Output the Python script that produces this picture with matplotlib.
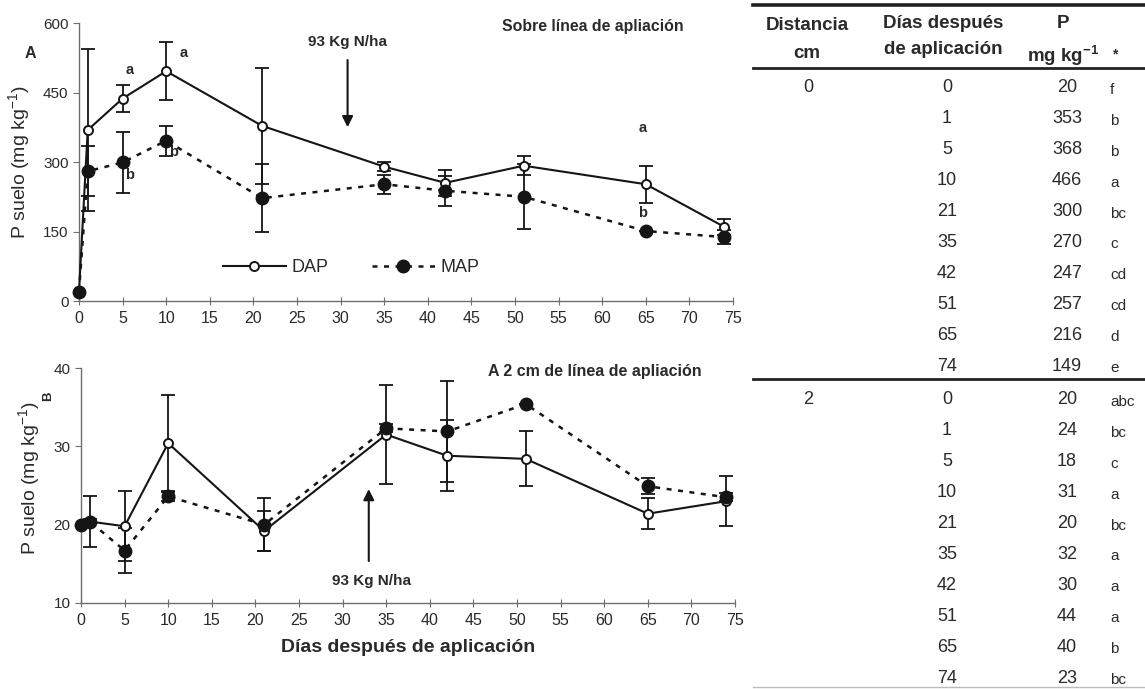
import numpy as np
import matplotlib
matplotlib.use('Agg')
import matplotlib.pyplot as plt
from matplotlib.lines import Line2D

plt.rcParams['font.family'] = ['Liberation Sans', 'DejaVu Sans']
plt.rcParams['mathtext.fontset'] = 'custom'
plt.rcParams['mathtext.rm'] = 'Liberation Sans'
plt.rcParams['mathtext.bf'] = 'Liberation Sans:bold'
plt.rcParams['axes.unicode_minus'] = False

# --- data ---
days = [0, 1, 5, 10, 21, 35, 42, 51, 65, 74]

# panel A: on the application line
dap_a = [20, 369, 437, 496, 378, 290, 255, 292, 252, 160]
dap_a_err = [0, 175, 29, 62, 125, 10, 28, 21, 40, 18]
map_a = [20, 280, 299, 346, 222, 252, 238, 225, 151, 138]
map_a_err = [0, 54, 66, 32, 74, 20, 32, 70, 0, 15]

# panel B: 2 cm from the application line
dap_b = [20.0, 20.4, 19.8, 30.4, 19.2, 31.5, 28.8, 28.4, 21.4, 23.0]
dap_b_err = [0, 3.2, 4.45, 6.1, 2.5, 6.3, 4.5, 3.5, 2.0, 3.2]
map_b = [20.0, 20.4, 16.7, 23.6, 20.0, 32.3, 31.9, 35.4, 24.9, 23.5]
map_b_err = [0, 0.3, 2.9, 0.6, 3.4, 0.5, 6.5, 0, 1.0, 0.5]

# letters of the significance test (day, value, text)
letters_a = [(5.8, 498, 'a'), (12.0, 535, 'a'), (5.8, 272, 'b'), (10.8, 322, 'b'),
             (64.6, 373, 'a'), (64.6, 190, 'b')]

# table
tab_dist = ['0', '2']
tab_days = ['0', '1', '5', '10', '21', '35', '42', '51', '65', '74']
tab_p_0 = ['20', '353', '368', '466', '300', '270', '247', '257', '216', '149']
tab_sig_0 = ['f', 'b', 'b', 'a', 'bc', 'c', 'cd', 'cd', 'd', 'e']
tab_p_2 = ['20', '24', '18', '31', '20', '32', '30', '44', '40', '23']
tab_sig_2 = ['abc', 'bc', 'c', 'a', 'bc', 'a', 'a', 'a', 'b', 'bc']

W, H = 1145, 689
fig = plt.figure(figsize=(W / 100, H / 100), dpi=100)

axA = fig.add_axes([79 / W, 1 - 301 / H, 654 / W, 278 / H])
axB = fig.add_axes([81 / W, 1 - 603 / H, 654 / W, 235 / H])

spine_c = '#6e6e6e'
txt_c = '#2a2a2a'


def style(ax):
    for s in ['top', 'right']:
        ax.spines[s].set_visible(False)
    for s in ['left', 'bottom']:
        ax.spines[s].set_color(spine_c)
        ax.spines[s].set_linewidth(1.0)
    ax.tick_params(axis='x', direction='inout', length=6, color=spine_c,
                   labelsize=11.5, labelcolor=txt_c, pad=4)
    ax.tick_params(axis='y', direction='out', length=4, color=spine_c,
                   labelsize=11, labelcolor=txt_c)
    ax.set_xlim(0, 75)
    ax.set_xticks(np.arange(0, 76, 5))


def draw(ax, dap, dap_err, mp, mp_err):
    ax.errorbar(days, mp, yerr=mp_err, fmt='none', ecolor='#151515',
                elinewidth=1.3, capsize=5, capthick=1.3, zorder=2)
    ax.errorbar(days, dap, yerr=dap_err, fmt='none', ecolor='#151515',
                elinewidth=1.3, capsize=5, capthick=1.3, zorder=2)
    ax.plot(days, dap, color='#151515', lw=1.5, ls='-',
            marker='o', ms=6.5, mfc='white', mec='#151515', mew=1.4,
            zorder=3, clip_on=False)
    ax.plot(days, mp, color='#151515', lw=1.8, ls=(0, (2.0, 2.6)),
            marker='o', ms=9, mfc='#151515', mec='#151515', zorder=4,
            clip_on=False)


# panel A
style(axA)
draw(axA, dap_a, dap_a_err, map_a, map_a_err)
axA.set_ylim(0, 600)
axA.set_yticks([0, 150, 300, 450, 600])
axA.set_ylabel('P suelo (mg kg$^{-1}$)', fontsize=14, color=txt_c)
axA.yaxis.set_label_coords(-0.070, 0.5)
for x, y, t in letters_a:
    axA.text(x, y, t, fontsize=10.5, fontweight='bold', color=txt_c,
             ha='center', va='center')
axA.annotate('', xy=(30.8, 369), xytext=(30.8, 526),
             arrowprops=dict(arrowstyle='-|>', lw=1.5, color='#151515',
                             mutation_scale=16))
axA.text(30.8, 560, '93 Kg N/ha', fontsize=11, fontweight='bold',
         color=txt_c, ha='center', va='center')
axA.text(58.9, 593, 'Sobre línea de apliación', fontsize=11.4,
         fontweight='bold', color=txt_c, ha='center', va='center')

h_dap = Line2D([], [], color='#151515', lw=1.5, marker='o', ms=6.5,
               mfc='white', mec='#151515', mew=1.4)
h_map = Line2D([], [], color='#151515', lw=1.8, ls=(0, (2.0, 2.6)),
               marker='o', ms=9, mfc='#151515')
axA.legend([h_dap, h_map], ['DAP', 'MAP'], ncol=2, frameon=False,
           loc='center left', bbox_to_anchor=(0.195, 0.119),
           fontsize=13, handlelength=3.5, columnspacing=2.4,
           handletextpad=0.3, labelcolor=txt_c)

# panel B
style(axB)
draw(axB, dap_b, dap_b_err, map_b, map_b_err)
axB.set_ylim(10, 40)
axB.set_yticks([10, 20, 30, 40])
axB.set_ylabel('P suelo (mg kg$^{-1}$)', fontsize=14, color=txt_c)
axB.yaxis.set_label_coords(-0.058, 0.53)
axB.set_xlabel('Días después de aplicación', fontsize=14,
               fontweight='bold', color=txt_c, labelpad=8)
axB.annotate('', xy=(33.0, 24.9), xytext=(33.0, 15.0),
             arrowprops=dict(arrowstyle='-|>', lw=1.5, color='#151515',
                             mutation_scale=16))
axB.text(33.3, 12.8, '93 Kg N/ha', fontsize=11, fontweight='bold',
         color=txt_c, ha='center', va='center')
axB.text(58.9, 39.5, 'A 2 cm de línea de apliación', fontsize=11.5,
         fontweight='bold', color=txt_c, ha='center', va='center')

fig.text(30 / W, 1 - 53 / H, 'A', fontsize=11.5, fontweight='bold',
         color=txt_c, ha='center', va='center')
fig.text(48 / W, 1 - 396 / H, 'B', fontsize=9.5, fontweight='bold',
         color=txt_c, ha='center', va='center', rotation=90)

# table (pixel coordinates)
tax = fig.add_axes([0, 0, 1, 1], zorder=-1)
tax.set_xlim(0, W)
tax.set_ylim(H, 0)
tax.axis('off')

tax.plot([753, W], [5, 5], color='#222222', lw=2.6)
tax.plot([753, W], [68, 68], color='#222222', lw=2.0)
tax.plot([753, W], [379, 379], color='#222222', lw=2.0)
tax.plot([753, W], [687, 687], color='#bbbbbb', lw=1.0)

hdr = dict(fontsize=13.5, fontweight='bold', color=txt_c, ha='center', va='center')
tax.text(807, 25, 'Distancia', **hdr)
tax.text(807, 53, 'cm', **hdr)
tax.text(943, 24, 'Días después', **hdr)
tax.text(943, 50, 'de aplicación', **hdr)
tax.text(1063, 24, 'P', **hdr)
tax.text(1063, 56, 'mg kg$^{\\mathbf{-1}}$', **hdr)
tax.text(1115, 54, '*', fontsize=10, fontweight='bold', color=txt_c,
         ha='center', va='center')

cell = dict(fontsize=13, color=txt_c, ha='center', va='center')
sig = dict(fontsize=11, color=txt_c, ha='left', va='center')
p_cols = [tab_p_0, tab_p_2]
s_cols = [tab_sig_0, tab_sig_2]
for k, dist in enumerate(tab_dist):
    y0 = 88 + 31 * 10 * k + (2 if k else 0)
    tax.text(808, y0, dist, **cell)
    for i, d in enumerate(tab_days):
        y = y0 + 30.9 * i
        tax.text(947, y, d, **cell)
        tax.text(1067, y, p_cols[k][i], **cell)
        tax.text(1110, y + 2, s_cols[k][i], **sig)

fig.savefig('out.png', dpi=100)
